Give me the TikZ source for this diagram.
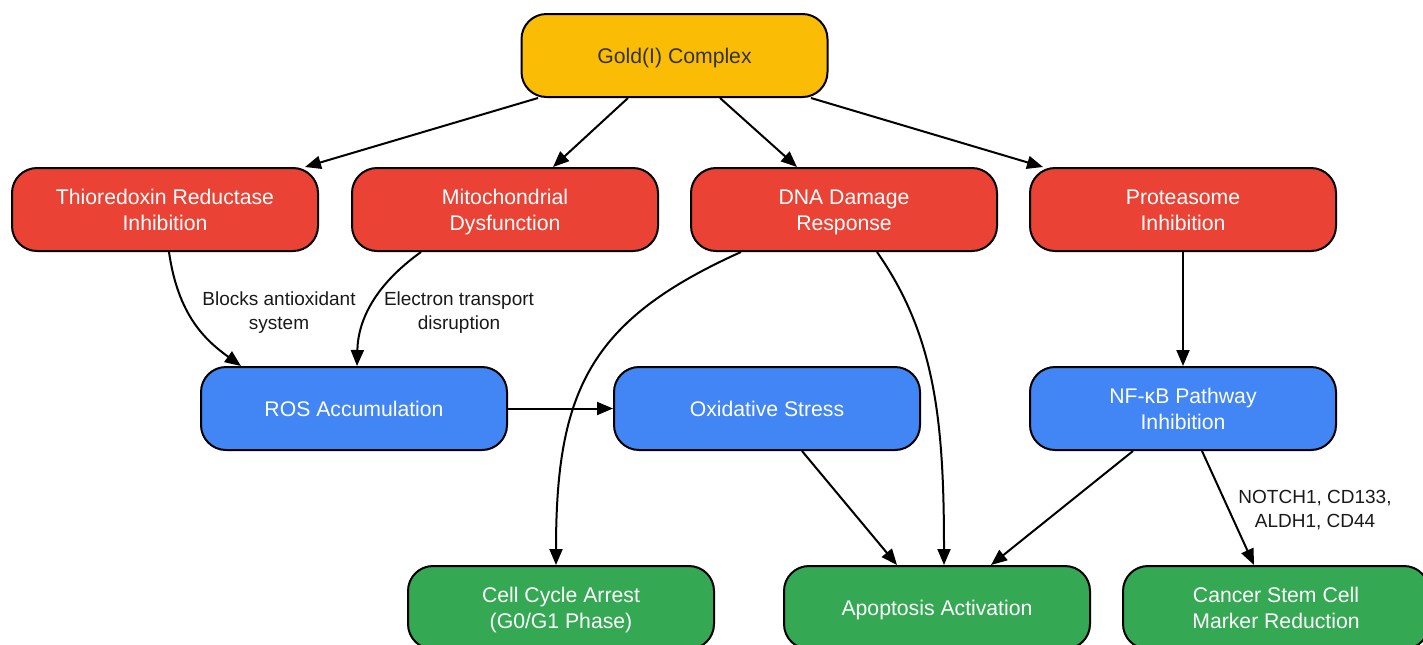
\documentclass[tikz,border=0pt]{standalone}
\usepackage{fontspec}
\setmainfont{Liberation Sans}
\usetikzlibrary{arrows.meta,calc}
\definecolor{cgold}{HTML}{FBBC05}
\definecolor{cred}{HTML}{EA4335}
\definecolor{cblue}{HTML}{4285F4}
\definecolor{cgreen}{HTML}{34A853}
\definecolor{ctext}{HTML}{333333}
\tikzset{
  box/.style={draw=black, line width=1pt, rounded corners=12.5pt, minimum width=153pt, minimum height=41.5pt, align=center, font=\fontsize{10.6}{13}\selectfont, text=white, inner sep=2pt, text depth=0pt},
  goldbox/.style={box, fill=cgold, text=ctext},
  redbox/.style={box, fill=cred},
  bluebox/.style={box, fill=cblue},
  greenbox/.style={box, fill=cgreen},
  conn/.style={draw=black, line width=1pt, -{Triangle[length=8pt,width=6.5pt]}},
  lbl/.style={align=center, font=\fontsize{9.5}{12}\selectfont, text=black!90, text depth=0pt}
}
\begin{document}
\begin{tikzpicture}[x=0.5pt,y=-0.5pt]
\useasboundingbox (0,0) rectangle (1423,644);
\node[goldbox] (gold) at (674.5,55.5) {Gold(I) Complex};
\node[redbox] (thio) at (165,209.5) {Thioredoxin Reductase\\Inhibition};
\node[redbox] (mito) at (505,209.5) {Mitochondrial\\Dysfunction};
\node[redbox] (dna) at (844,209.5) {\vphantom{h}DNA Damage\\Response};
\node[redbox] (prot) at (1183,209.5) {\vphantom{h}Proteasome\\Inhibition};
\node[bluebox] (ros) at (354,408.5) {ROS Accumulation};
\node[bluebox] (ox) at (767,408.5) {Oxidative Stress};
\node[bluebox] (nf) at (1183,408.5) {NF-κB Pathway\\Inhibition};
\node[greenbox] (cell) at (561,607.5) {Cell Cycle Arrest\\(G0/G1 Phase)};
\node[greenbox] (apo) at (937,607.5) {Apoptosis Activation};
\node[greenbox] (csc) at (1276,607.5) {Cancer Stem Cell\\Marker Reduction};

\draw[conn] ([xshift=-68.25pt]gold.south) -- ([xshift=70pt]thio.north);
\draw[conn] ([xshift=-23.25pt]gold.south) -- ([xshift=24pt]mito.north);
\draw[conn] ([xshift=22.75pt]gold.south) -- ([xshift=-23.5pt]dna.north);
\draw[conn] ([xshift=68.25pt]gold.south) -- ([xshift=-70pt]prot.north);

\draw[conn] ([xshift=2pt]thio.south) .. controls (178,315) and (205,340) .. ([xshift=-56.5pt]ros.north);
\draw[conn] ([xshift=-42pt]mito.south) .. controls (375,285) and (358,320) .. ([xshift=1.5pt]ros.north);
\draw[conn] ([xshift=-51.5pt]dna.south) .. controls (590,320) and (556,390) .. ([xshift=-2.5pt]cell.north);
\draw[conn] ([xshift=16.5pt]dna.south) .. controls (935,335) and (944,420) .. ([xshift=3.5pt]apo.north);

\draw[conn] (ros.east) -- (ox.west);
\draw[conn] (prot.south) -- (nf.north);
\draw[conn] ([xshift=17.5pt]ox.south) -- ([xshift=-20pt]apo.north);
\draw[conn] ([xshift=-25pt]nf.south) -- ([xshift=27pt]apo.north);
\draw[conn] ([xshift=9.5pt]nf.south) -- ([xshift=-11pt]csc.north);

\node[lbl] (l1) at (279,311) {Blocks antioxidant\\system};
\node[lbl] (l2) at (459,311) {Electron transport\\disruption};
\node[lbl] (l3) at (1315,509) {NOTCH1, CD133,\\ALDH1, CD44};
\end{tikzpicture}
\end{document}
